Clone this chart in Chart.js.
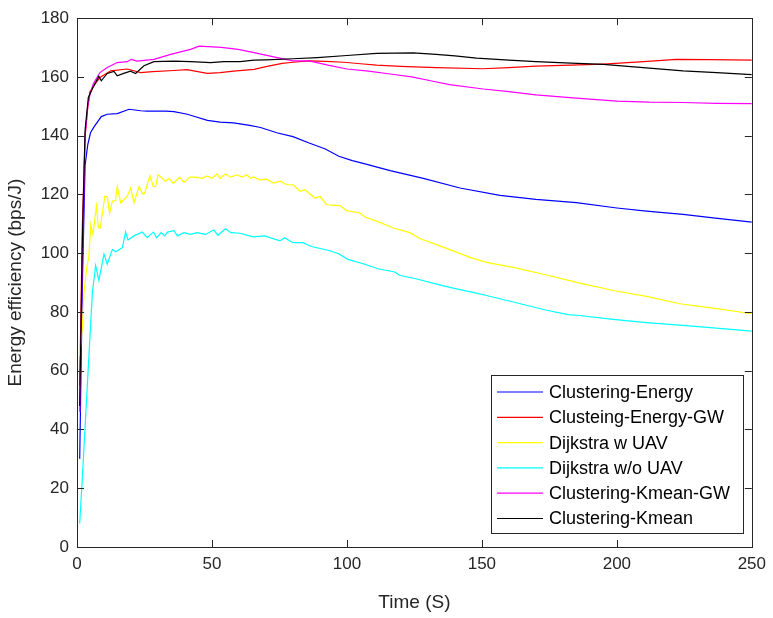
<!DOCTYPE html>
<html>
<head>
<meta charset="utf-8">
<script src="https://cdn.jsdelivr.net/npm/chart.js@4/dist/chart.umd.min.js"></script>
<style>
  html, body { margin: 0; padding: 0; background: #ffffff; }
  #wrap { width: 773px; height: 618px; position: relative; }
</style>
</head>
<body>
<div id="wrap"><canvas id="c" width="773" height="618"></canvas></div>
<script>
// ---- Data ----
const seriesNames = ["Clustering-Energy", "Clusteing-Energy-GW", "Dijkstra w UAV", "Dijkstra w/o UAV", "Clustering-Kmean-GW", "Clustering-Kmean"];
const seriesColors = ["#0000ff", "#ff0000", "#ffff00", "#00ffff", "#ff00ff", "#000000"];

const xTicks = [0, 50, 100, 150, 200, 250];
const yTicks = [0, 20, 40, 60, 80, 100, 120, 140, 160, 180];

const timeEnergy = [1,2,3,4,5,6.3,9,11.2,14.9,19.3,23.6,26,33,35.9,40.9,43,48.3,53,58,64,68,74,80,86,92,97,102,106,116,128.3,141.9,156.7,170,185,200,211,224.5,235.7,250];
const effEnergy  = [30,90,130,137,141,143,146.5,147.3,147.5,149,148.5,148.4,148.4,148.2,147.3,146.7,145.2,144.6,144.4,143.5,142.8,141,139.7,137.5,135.5,133,131.5,130.6,128.1,125.5,122.2,119.7,118.3,117.2,115.4,114.3,113.2,112,110.6];

const timeEnergyGW = [1,2,3,4,4.8,7,8.5,12.5,18.6,23.6,28,35.9,40.7,48.3,53,58,65.6,70,76,80,86,92,99,105,111,120,133,150.5,160,170,183,195,210,222,235,250];
const effEnergyGW  = [55,110,140,150,155,158,159.8,162.1,162.7,161.5,161.8,162.2,162.5,161.2,161.5,162,162.6,163.5,164.6,165,165.5,165.3,165,164.5,164,163.6,163.2,162.8,163.2,163.7,164,164.4,165.2,166,165.9,165.7];

const timeDijkstraUAV = [1,2,2.6,3.6,4.4,5.1,5.9,7.2,7.9,8.6,10.3,11.2,12.1,13.1,14.3,14.9,16.2,18.6,19.9,21.1,23,24.2,25,27,28.3,29.1,30,31.6,32.8,34.1,35.7,38.1,39.6,41.8,43.9,46.4,48.1,50,51.9,53,55,56.8,59.3,61.1,63,64.2,65.4,67.8,70.3,72.8,75.3,77.7,80.1,82.6,84.4,88.1,90,92.5,97.4,99.9,104.8,106.7,112.2,117.2,123.3,127,134.4,139.3,145.6,151.7,161.6,174,186.3,198.6,211,223.3,235.7,250];
const effDijkstraUAV  = [65,75,86.7,95,99,109.8,106.4,116,108.7,108.5,119.4,119.2,113.7,117.7,118,122.7,117.1,119.4,122.2,117.1,122.7,120.3,120.3,126.3,122.7,122.7,126.7,125.5,124.4,125.5,123.8,125.9,124.1,125.9,125.9,125.5,126.3,125.5,127,125.5,127,125.9,126.7,125.9,126.7,125.5,126,125,125.2,123.9,124.5,123.3,123.3,121.1,121.6,118.8,119.3,116.5,116.2,114.5,113.7,112.3,110.5,108.6,107,105,102.5,100.8,98.6,96.9,95.2,92.6,89.8,87.3,85.3,82.8,81.3,79.4];

const timeDijkstraNoUAV = [1,2,3,4,5.7,6.9,8.1,10,11.2,13.1,14.3,16.8,18,18.9,21.1,24.2,26,28.3,29.5,31.2,32.5,33.5,35.9,37.2,39.6,42,44.5,47.6,50.7,52.2,55,57,60.4,65.3,69.6,75.1,76.9,80,83.7,86.8,93,96.7,100.4,106,111.5,117.7,119.5,125.1,134.4,139.3,146.7,151.7,161.6,174,181.9,186.3,198.6,211,223.3,235.7,250];
const effDijkstraNoUAV  = [8,24,41,58,86.7,95.8,90.8,99.7,96.3,101.3,100.5,101.9,107.2,104.5,105.9,107.2,105.3,107.2,105.3,107,105.9,107.2,107.7,105.9,107,106.4,107,106.4,107.9,106.1,108.3,107,106.8,105.6,105.9,104.2,105.3,103.6,103.6,102.3,101,99.9,97.9,96.4,94.7,93.6,92.5,91.4,89.2,88.1,86.7,85.6,83.4,80.6,79.1,78.8,77.5,76.4,75.5,74.6,73.5];

const timeKmeanGW = [1,2,3,4,4.8,6,8.5,11.2,14.9,18.6,20.1,22.3,28.5,34.7,42.1,45.2,53.5,59.7,65.6,72,80,86,93,100,108,116,124,131,138,150.5,160,170,185,200,212,224.5,237,250];
const effKmeanGW  = [46,100,140,150,154,157.6,161.5,163.2,164.9,165.2,166,165.4,166,167.7,169.4,170.5,170.1,169.4,168.3,167,165.5,165.5,164,162.7,162,161,160,158.7,157.4,155.9,155,153.9,152.8,151.8,151.4,151.3,151,150.9];

const timeKmean = [1,2,3,4.2,6,8.1,9,11.2,13.7,14.9,17.3,19.8,21.7,24.8,28.5,35.9,42.1,49.5,54.4,60.4,65.6,70,80,89,100,111,124.5,133,140,148,160,170,183,195,212,224.5,237,250];
const effKmean  = [48,105,142,153,156.6,160.2,158.7,161.2,161.9,160.4,161.2,162,161.2,163.8,165.2,165.4,165.2,164.9,165.2,165.2,165.7,165.8,166.2,166.6,167.3,168,168.2,167.7,167.2,166.4,165.7,165.2,164.7,164.3,163,162.1,161.5,160.8];

const seriesTimes = [timeEnergy, timeEnergyGW, timeDijkstraUAV, timeDijkstraNoUAV, timeKmeanGW, timeKmean];
const seriesValues = [effEnergy, effEnergyGW, effDijkstraUAV, effDijkstraNoUAV, effKmeanGW, effKmean];

// ---- Styling ----
const FONT = "'Liberation Sans', Arial, Helvetica, sans-serif";
const TEXT = "#262626";

const datasets = seriesNames.map((name, i) => ({
  label: name,
  data: seriesTimes[i].map((t, k) => ({ x: t, y: seriesValues[i][k] })),
  borderColor: seriesColors[i],
  backgroundColor: seriesColors[i],
  borderWidth: 1.2,
  pointRadius: 0,
  tension: 0,
  fill: false,
  order: seriesNames.length - i
}));

const boxAndTicks = {
  id: 'boxAndTicks',
  afterDraw(chart) {
    const { ctx, chartArea: a, scales } = chart;
    ctx.save();
    ctx.strokeStyle = TEXT;
    ctx.lineWidth = 1;
    ctx.strokeRect(Math.round(a.left) + 0.5, Math.round(a.top) + 0.5, Math.round(a.right - a.left), Math.round(a.bottom - a.top));
    const L = 7;
    ctx.beginPath();
    xTicks.forEach(v => {
      const x = Math.round(scales.x.getPixelForValue(v)) + 0.5;
      ctx.moveTo(x, a.bottom); ctx.lineTo(x, a.bottom - L);
      ctx.moveTo(x, a.top); ctx.lineTo(x, a.top + L);
    });
    yTicks.forEach(v => {
      const y = Math.round(scales.y.getPixelForValue(v)) + 0.5;
      ctx.moveTo(a.left, y); ctx.lineTo(a.left + L, y);
      ctx.moveTo(a.right, y); ctx.lineTo(a.right - L, y);
    });
    ctx.stroke();

    // legend box (inside the axes, bottom-right)
    const bw = 252, bh = 158;
    const bx = Math.round(a.right - 9 - bw), by = Math.round(a.bottom - 14 - bh);
    ctx.fillStyle = "#ffffff";
    ctx.fillRect(bx, by, bw, bh);
    ctx.strokeStyle = TEXT;
    ctx.lineWidth = 1;
    ctx.strokeRect(bx + 0.5, by + 0.5, bw, bh);
    ctx.font = "18px " + FONT;
    ctx.textBaseline = "middle";
    ctx.textAlign = "left";
    seriesNames.forEach((name, i) => {
      const y = by + 17 + i * 25.3;
      ctx.strokeStyle = seriesColors[i];
      ctx.lineWidth = 1.2;
      ctx.beginPath();
      ctx.moveTo(bx + 6, y); ctx.lineTo(bx + 52, y);
      ctx.stroke();
      ctx.fillStyle = "#000000";
      ctx.fillText(name, bx + 58, y + 1);
    });
    ctx.restore();
  }
};

new Chart(document.getElementById('c'), {
  type: 'line',
  data: { datasets },
  options: {
    responsive: false,
    animation: false,
    events: [],
    layout: { padding: { top: 13, right: 21, left: 0, bottom: 0 } },
    plugins: { legend: { display: false }, tooltip: { enabled: false } },
    scales: {
      x: {
        type: 'linear', min: 0, max: 250,
        afterBuildTicks(s) { s.ticks = xTicks.map(v => ({ value: v })); },
        afterFit(s) { s.height = 71; },
        grid: { display: false, drawTicks: false },
        border: { display: false },
        ticks: { color: TEXT, font: { family: FONT, size: 17 }, padding: 7, maxRotation: 0 },
        title: { display: true, text: 'Time (S)', color: TEXT, font: { family: FONT, size: 19 }, padding: { top: 0, bottom: 4 } }
      },
      y: {
        type: 'linear', min: 0, max: 180,
        afterBuildTicks(s) { s.ticks = yTicks.map(v => ({ value: v })); },
        afterFit(s) { s.width = 77; },
        grid: { display: false, drawTicks: false },
        border: { display: false },
        ticks: { color: TEXT, font: { family: FONT, size: 17 }, padding: 8 },
        title: { display: true, text: 'Energy efficiency (bps/J)', color: TEXT, font: { family: FONT, size: 19 }, padding: { top: 4, bottom: 4 } }
      }
    }
  },
  plugins: [boxAndTicks]
});
</script>
</body>
</html>
